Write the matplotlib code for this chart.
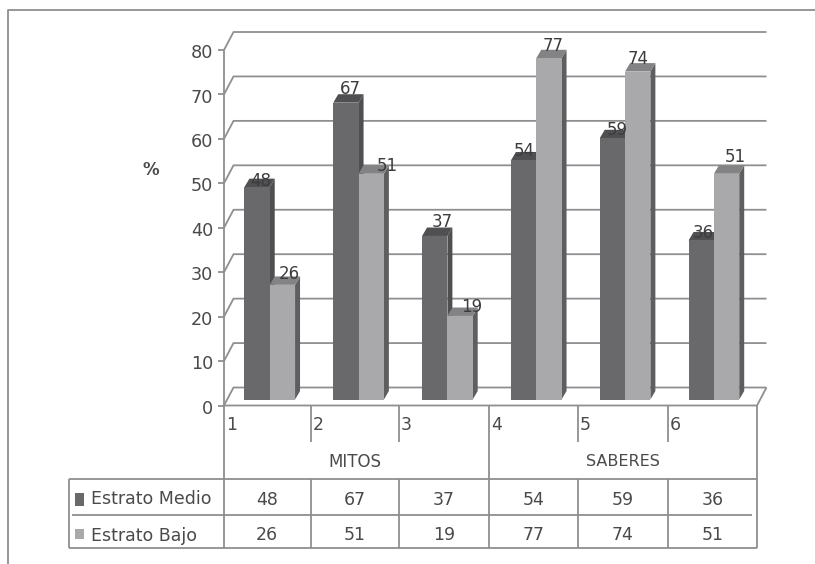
import matplotlib
matplotlib.use('Agg')
import matplotlib.pyplot as plt
from matplotlib.patches import Polygon, Rectangle

# survey results, % per item
items = ['1', '2', '3', '4', '5', '6']
medio = [48, 67, 37, 54, 59, 36]
bajo = [26, 51, 19, 77, 74, 51]
yticks = [0, 10, 20, 30, 40, 50, 60, 70, 80]
groups = ['MITOS', 'SABERES']
series = ['Estrato Medio', 'Estrato Bajo']

# label nudges in pixels, the 3d labels sit wherever excel dropped them
medio_off = [(4, 5), (4, 13), (7, 13), (1, 9), (5, 7), (2, 7)]
bajo_off = [(7, 10), (16, 7), (12, 8), (4, 11), (0, 12), (9, 16)]

W, H = 815, 564
TXT = '#4a4a4c'
LINE = '#8f8f91'
LW = 1.3

plt.rcParams['font.family'] = ['DejaVu Sans']
fig = plt.figure(figsize=(W / 100, H / 100), dpi=100, facecolor='white')

# overlay in pixel coords for the frame and the data table
ov = fig.add_axes([0, 0, 1, 1], zorder=0)
ov.set_xlim(0, W)
ov.set_ylim(H, 0)
ov.axis('off')

# plot area: front plane of the fake 3d box
x0, x1, y0, y80 = 224, 757, 405.5, 50
ax = fig.add_axes([x0 / W, 1 - y0 / H, (x1 - x0) / W, (y0 - y80) / H], zorder=1)
ax.set_xlim(0, len(items))
ax.set_ylim(0, 80)
ax.axis('off')
ax.patch.set_alpha(0)

# wall and bar depth in data units
wall_dx, wall_dy = 0.107, 4.05
bar_dx, bar_dy = 0.056, 1.9
base = 1.35
lift = 1.15  # bars stand partway into the box, so their tops ride up too
bar_w = 0.285
bar_start = 0.23


def ln(a, xs, ys, lw=LW, z=1, **kw):
    a.plot(xs, ys, color=LINE, lw=lw, solid_capstyle='butt', clip_on=False, zorder=z, **kw)


# outer frame, open on the right and the bottom
ln(ov, [8, 8, W], [H, 10, 10])

# gridlines on the back wall, with the slanted stubs on the side wall
for v in yticks:
    ln(ax, [0, wall_dx, len(items) + wall_dx], [v, v + wall_dy, v + wall_dy])
    ln(ax, [-0.065, 0], [v, v])
    ax.text(-0.12, v - 0.7, str(v), ha='right', va='center', fontsize=12.7, color=TXT, clip_on=False)
ln(ax, [0, 0], [0, 80])
ln(ax, [0, len(items), len(items) + wall_dx], [0, 0, wall_dy])


def bar3d(x, v, front, top, side):
    y = base
    t = v + lift
    pts_side = [(x + bar_w, y), (x + bar_w + bar_dx, y + bar_dy),
                (x + bar_w + bar_dx, t + bar_dy), (x + bar_w, t)]
    pts_top = [(x, t), (x + bar_dx, t + bar_dy), (x + bar_w + bar_dx, t + bar_dy), (x + bar_w, t)]
    ax.add_patch(Polygon(pts_side, closed=True, fc=side, ec='none', zorder=3, clip_on=False))
    ax.add_patch(Polygon(pts_top, closed=True, fc=top, ec='none', zorder=3, clip_on=False))
    ax.add_patch(Rectangle((x, y), bar_w, t - y, fc=front, ec='none', zorder=3, clip_on=False))


for i in range(len(items)):
    left = i + bar_start
    bar3d(left, medio[i], '#69696b', '#505052', '#4f4f51')
    bar3d(left + bar_w, bajo[i], '#a9a9ac', '#838385', '#5e5e61')

# value labels, drawn over the bars
for i in range(len(items)):
    left = i + bar_start
    for v, off, cx in ((medio[i], medio_off[i], left + bar_w / 2),
                       (bajo[i], bajo_off[i], left + bar_w * 1.5)):
        ax.annotate(str(v), (cx, v + base), xytext=(off[0] * 0.72, off[1] * 0.72), textcoords='offset points',
                    ha='center', va='center', fontsize=12, color='#3c3c3e', zorder=5, annotation_clip=False)

ax.text(-0.82, 53, '%', ha='center', va='center', fontsize=12, color=TXT, fontweight='bold', clip_on=False)

# data table under the axis
cols = [224, 310.5, 398.5, 489, 578, 668, 757]
y_axis, y_tick, y_head, y_mid, y_bot = 405.5, 442, 479, 515, 548
ln(ov, [224, 224], [y0, y_bot])
ln(ov, [489, 489], [y_axis, y_bot])
ln(ov, [757, 757], [y_axis, y_bot])
for c in (310.5, 398.5, 578, 668):
    ln(ov, [c, c], [y_axis, y_tick])
    ln(ov, [c, c], [y_head, y_bot])
ln(ov, [69, 757], [y_head, y_head])
ln(ov, [72, 752], [y_mid, y_mid])
ln(ov, [69, 757], [y_bot, y_bot])
ln(ov, [69, 69], [y_head, y_bot])

for i, name in enumerate(items):
    ov.text(cols[i] + 2, 425, name, ha='left', va='center', fontsize=12.5, color=TXT)
    cx = (cols[i] + cols[i + 1]) / 2
    ov.text(cx, 500, str(medio[i]), ha='center', va='center', fontsize=12.5, color=TXT)
    ov.text(cx, 535, str(bajo[i]), ha='center', va='center', fontsize=12.5, color=TXT)

ov.text(355, 462, groups[0], ha='center', va='center', fontsize=12, color=TXT)
ov.text(623, 462, groups[1], ha='center', va='center', fontsize=11.5, color=TXT)

ov.add_patch(Rectangle((75, 493), 9, 13, fc='#69696b', ec='none'))
ov.add_patch(Rectangle((75, 529), 9, 10, fc='#a9a9ac', ec='none'))
ov.text(91, 499, series[0], ha='left', va='center', fontsize=12.5, color=TXT)
ov.text(91, 536, series[1], ha='left', va='center', fontsize=12.5, color=TXT)

fig.savefig('out.png', dpi=100, facecolor='white')
